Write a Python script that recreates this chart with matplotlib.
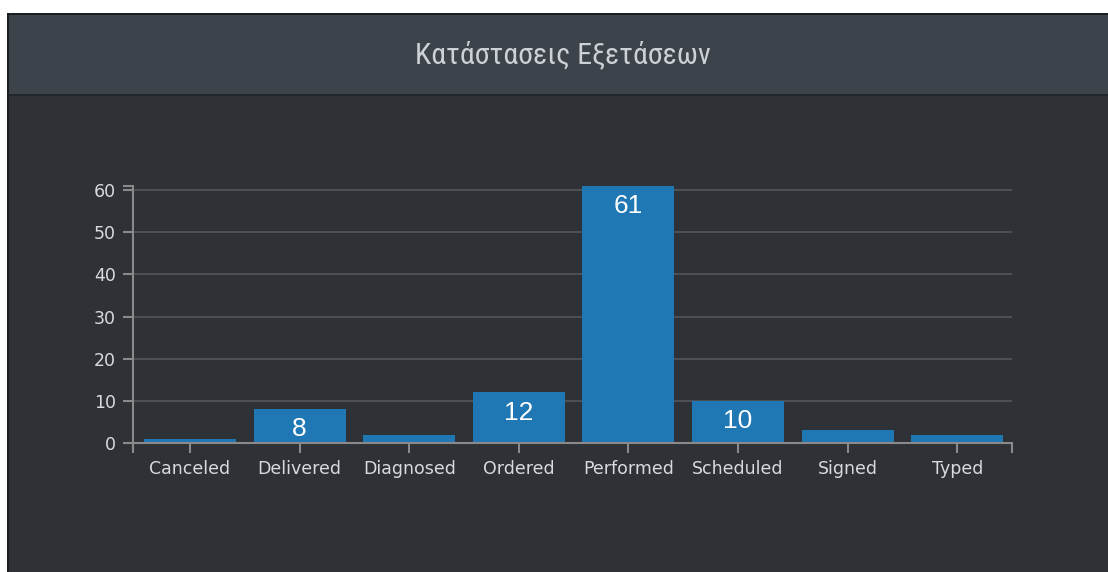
#!/usr/bin/env python3
'''
Bar chart of exam states (Κατάστασεις Εξετάσεων) on a dark dashboard panel.
'''

import matplotlib
matplotlib.use('Agg')
import matplotlib.pyplot as plt
from matplotlib import font_manager
from matplotlib.patches import Rectangle
import numpy as np

categories = ['Canceled', 'Delivered', 'Diagnosed', 'Ordered',
              'Performed', 'Scheduled', 'Signed', 'Typed']
counts = [1, 8, 2, 12, 61, 10, 3, 2]
y_ticks = [0, 10, 20, 30, 40, 50, 60]
title = 'Κατάστασεις Εξετάσεων'

W, H = 1108, 572
bg_panel = '#2e3237'
bg_header = '#3d434b'
bar_color = '#1f77b4'
axis_color = '#8a8a8a'
grid_color = '#565a60'
text_color = '#d8dadc'


def pick_font(names):
    for n in names:
        try:
            font_manager.findfont(n, fallback_to_default=False)
            return n
        except Exception:
            pass
    return 'DejaVu Sans'


title_font = pick_font(['Liberation Sans Narrow', 'DejaVu Sans Condensed',
                        'Roboto Condensed', 'Liberation Sans'])

fig = plt.figure(figsize=(W / 100, H / 100), dpi=100, facecolor='white')


def add_box(x, y, w, h, color):
    # pixel box (top-left origin) drawn in figure fraction coords
    fig.patches.append(Rectangle((x / W, 1 - (y + h) / H), w / W, h / H,
                                 transform=fig.transFigure, facecolor=color,
                                 edgecolor='none', zorder=-10))


# panel body, header and borders
add_box(7, 13, W - 7, H - 13, bg_panel)
add_box(7, 13, W - 7, 82, bg_header)
add_box(7, 94, W - 7, 2, '#222529')
add_box(7, 13, 2, H - 13, '#1c1f22')
add_box(7, 13, W - 7, 2, '#1c1f22')

fig.text(563 / W, 1 - 55 / H, title, ha='center', va='center',
         fontsize=21.5, color='#cdd1d5', family=[title_font, 'DejaVu Sans'])

# axes area: x 133..1012, y 186..443
ax = fig.add_axes([133 / W, 1 - 443 / H, (1012 - 133) / W, (443 - 186) / H])
ax.set_zorder(5)
ax.set_facecolor('none')

x = np.arange(len(categories))
ax.bar(x, counts, width=0.84, color=bar_color, zorder=2)

for xi, v in zip(x, counts):
    if v >= 5:
        ax.annotate(str(v), (xi, v), xytext=(0, -14.5), textcoords='offset points',
                    ha='center', va='center', color='white', fontsize=19,
                    family='Liberation Sans', zorder=3)

ax.set_xlim(-0.52, 7.5)
ax.set_ylim(0, 61)
ax.set_yticks(y_ticks)
ax.set_yticks([61], minor=True)
ax.set_xticks(x)
ax.set_xticks([-0.52, 7.5], minor=True)
ax.set_xticklabels(categories)

for s in ['top', 'right']:
    ax.spines[s].set_visible(False)
for s in ['left', 'bottom']:
    ax.spines[s].set_color(axis_color)
    ax.spines[s].set_linewidth(1.5)

ax.tick_params(which='both', length=7.5, width=1.5, color=axis_color,
               labelcolor=text_color, labelsize=12.5)
ax.tick_params(axis='x', which='both', pad=5)
ax.tick_params(axis='y', which='both', pad=5)

ax.yaxis.grid(True, color=grid_color, linewidth=1.1, zorder=1)
ax.set_axisbelow(True)

plt.savefig('out.png', dpi=100, facecolor=fig.get_facecolor())
print('Generated: out.png')
